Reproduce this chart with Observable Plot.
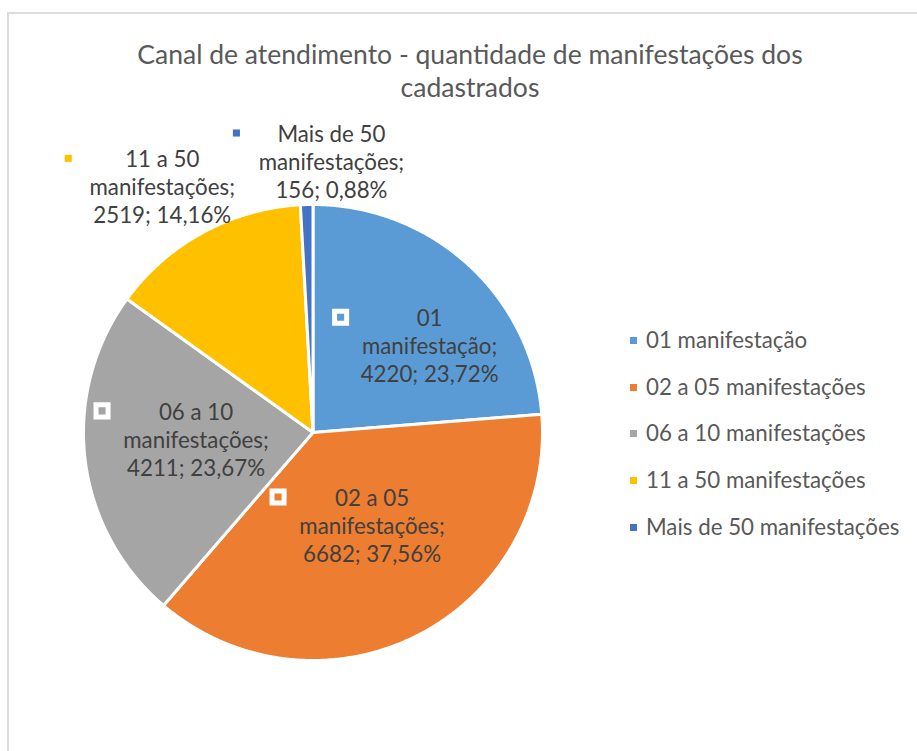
<!DOCTYPE html>
<html>
<head>
<meta charset="utf-8">
<script src="https://cdn.jsdelivr.net/npm/d3@7"></script>
<script src="https://cdn.jsdelivr.net/npm/@observablehq/plot@0.6"></script>
<style>
  html, body { margin: 0; padding: 0; background: #fff; overflow: hidden; }
  body { width: 917px; height: 751px; position: relative; font-family: Lato, "Open Sans", sans-serif; }
  #frame { position: absolute; left: 7px; top: 12px; width: 1200px; height: 1200px;
           border-left: 2px solid #dcdcdc; border-top: 2px solid #dcdcdc; }
  #title { position: absolute; left: 20px; width: 900px; top: 38px; text-align: center;
           font-size: 26.5px; line-height: 33px; color: #595959; }
  #chart { position: absolute; left: 0; top: 0; }
  #legend { position: absolute; left: 630px; top: 326px; color: #595959; font-size: 22.3px; }
  .li { height: 46.7px; line-height: 28px; display: flex; align-items: flex-start; }
  .sw { width: 7px; height: 7px; margin-right: 9px; margin-top: 11px; flex: none; }
</style>
</head>
<body>
<div id="frame"></div>
<div id="title">Canal de atendimento - quantidade de manifestações dos<br>cadastrados</div>
<div id="chart"></div>
<div id="legend"></div>
<script>
const categories = ["01 manifestação", "02 a 05 manifestações", "06 a 10 manifestações", "11 a 50 manifestações", "Mais de 50 manifestações"];
const values = [4220, 6682, 4211, 2519, 156];
const colors = ["#5B9BD5", "#ED7D31", "#A5A5A5", "#FFC000", "#4472C4"];

const total = d3.sum(values);
const arcs = d3.pie().sort(null).startAngle(0).endAngle(2 * Math.PI)(values);

// slice polygons in unit-circle data coordinates (y up)
const slicePts = [];
arcs.forEach((a, i) => {
  const cat = categories[i];
  slicePts.push({cat, x: 0, y: 0});
  const n = Math.max(2, Math.ceil((a.endAngle - a.startAngle) / (Math.PI / 360)));
  for (let k = 0; k <= n; k++) {
    const t = a.startAngle + (a.endAngle - a.startAngle) * k / n;
    slicePts.push({cat, x: Math.sin(t), y: Math.cos(t)});
  }
  slicePts.push({cat, x: 0, y: 0});
});

const fmtPct = v => (v * 100).toFixed(2).replace(".", ",") + "%";
const labels = arcs.map((a, i) => {
  const name = categories[i];
  const sp = name.lastIndexOf(" ");
  const frac = values[i] / total;
  const mid = (a.startAngle + a.endAngle) / 2;
  const inside = frac > 0.2;
  return {
    cat: name, inside, mid, frac,
    text: name.slice(0, sp) + "\n" + name.slice(sp + 1) + ";\n" + values[i] + "; " + fmtPct(frac)
  };
});

// placement (Excel "best fit" look)
const place = [
  {r: 0.64, dx: 17, dy: 20, kdx: -89},
  {r: 0.50, dx: 7, dy: -9, kdx: -94},
  {r: 0.50, dx: -3, dy: -7, kdx: -94},
  {r: 1.27, dx: -11, dy: 8, kdx: -94},
  {r: 1.20, dx: 26, dy: 2, kdx: -95}
];

const labelMarks = [];
labels.forEach((d, i) => {
  const p = place[i];
  const pt = [{...d, x: p.r * Math.sin(d.mid), y: p.r * Math.cos(d.mid)}];
  labelMarks.push(Plot.text(pt, {
    x: "x", y: "y", text: "text", dx: p.dx, dy: p.dy,
    fontSize: 22.3, lineHeight: 28 / 22.3, fill: "#404040", fontFamily: "Lato", textAnchor: "middle"
  }));
  labelMarks.push(Plot.dot(pt, {
    x: "x", y: "y", dx: p.dx + p.kdx, dy: p.dy - 28, symbol: "square",
    r: d.inside ? 6.8 : 4, fill: "cat",
    stroke: d.inside ? "white" : "none", strokeWidth: d.inside ? 5 : 0
  }));
});

const chart = Plot.plot({
  width: 917,
  height: 751,
  margin: 0,
  x: {domain: [-1, 1], range: [83, 542], axis: null},
  y: {domain: [-1, 1], range: [660, 204], axis: null},
  color: {domain: categories, range: colors},
  style: {background: "transparent", overflow: "visible"},
  marks: [
    Plot.line(slicePts, {x: "x", y: "y", z: "cat", fill: "cat", stroke: "white", strokeWidth: 3, strokeLinejoin: "round"}),
    ...labelMarks
  ]
});
document.getElementById("chart").appendChild(chart);

const legend = document.getElementById("legend");
categories.forEach((c, i) => {
  const row = document.createElement("div");
  row.className = "li";
  const sw = document.createElement("span");
  sw.className = "sw";
  sw.style.background = colors[i];
  const tx = document.createElement("span");
  tx.textContent = c;
  row.appendChild(sw); row.appendChild(tx);
  legend.appendChild(row);
});
</script>
</body>
</html>
